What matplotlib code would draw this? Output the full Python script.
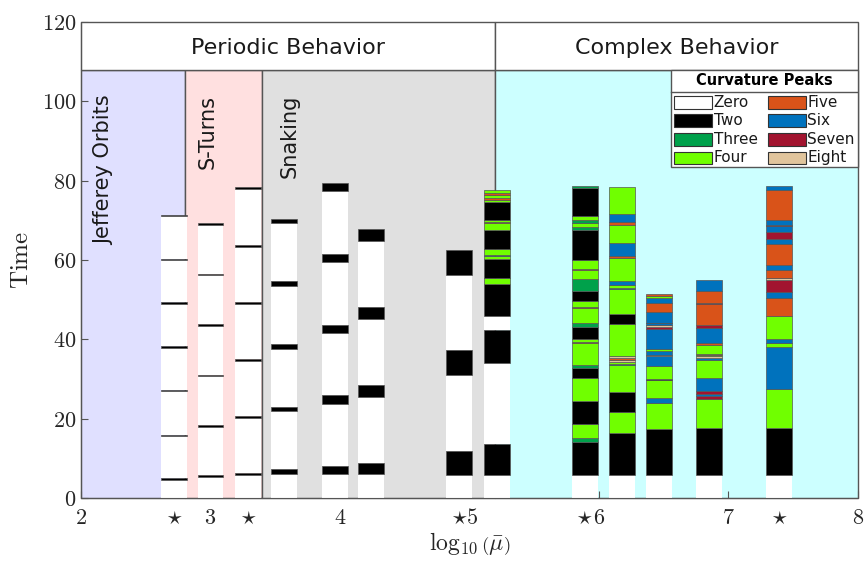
import matplotlib
matplotlib.use('Agg')
import matplotlib.pyplot as plt
from matplotlib.patches import Rectangle
import numpy as np

plt.rcParams['mathtext.fontset'] = 'cm'
plt.rcParams['font.family'] = 'DejaVu Sans'

# ---------------- DATA ----------------
# bar positions (log10 mu) and end times
bar_x = [2.72, 3.00, 3.29, 3.57, 3.96, 4.24, 4.92, 5.21, 5.89, 6.18, 6.46, 6.85, 7.39]
bar_top = [71.4, 69.3, 78.3, 70.4, 79.3, 67.7, 62.5, 77.6, 78.6, 78.4, 51.3, 54.9, 78.6]

# segment start times and number of curvature peaks in each segment
t1 = [0, 4.6, 5.0, 15.6, 16.0, 26.85, 27.1, 37.9, 38.3, 49.0, 49.4, 60.05, 60.3, 71.0]
p1 = [0, 2, 0, 2, 0, 2, 0, 2, 0, 2, 0, 2, 0, 2]
t2 = [0, 5.3, 5.7, 17.9, 18.3, 30.7, 31.1, 43.4, 43.8, 56.1, 56.5, 68.9]
p2 = [0, 2, 0, 2, 0, 2, 0, 2, 0, 2, 0, 2]
t3 = [0, 5.85, 6.35, 20.25, 20.75, 34.55, 35.05, 48.95, 49.45, 63.35, 63.85, 77.8]
p3 = [0, 2, 0, 2, 0, 2, 0, 2, 0, 2, 0, 2]
t4 = [0, 6.0, 7.2, 21.9, 23.0, 37.6, 38.8, 53.4, 54.6, 69.2]
p4 = [0, 2, 0, 2, 0, 2, 0, 2, 0, 2]
t5 = [0, 6.0, 8.0, 23.8, 25.9, 41.6, 43.6, 59.4, 61.6, 77.4]
p5 = [0, 2, 0, 2, 0, 2, 0, 2, 0, 2]
t6 = [0, 6.0, 8.8, 25.4, 28.5, 45.0, 48.1, 64.7]
p6 = [0, 2, 0, 2, 0, 2, 0, 2]
t7 = [0, 5.7, 11.9, 30.9, 37.3, 56.3]
p7 = [0, 2, 0, 2, 0, 2]
t8 = [0, 5.7, 13.7, 34.0, 42.4, 45.9, 53.9, 55.5, 60.2, 61.0, 61.3, 62.7, 67.5, 69.3,
      69.6, 70.2, 74.7, 75.1, 75.7, 76.4, 76.9]
p8 = [0, 2, 0, 2, 0, 2, 4, 2, 4, 6, 4, 2, 4, 5, 4, 2, 4, 5, 4, 5, 4]
t9 = [0, 5.7, 14.2, 15.0, 18.7, 24.5, 30.3, 32.8, 33.6, 39.1, 39.4, 40.0, 43.2, 44.0,
      47.9, 48.2, 49.7, 52.2, 55.3, 57.4, 57.7, 59.9, 67.5, 68.2, 69.4, 70.0, 71.1, 78.1]
p9 = [0, 2, 3, 4, 2, 4, 2, 3, 4, 5, 4, 2, 3, 4, 5, 4, 2, 3, 4, 5, 4, 2, 3, 4, 3, 4, 2, 3]
t10 = [0, 5.7, 16.3, 21.8, 26.6, 33.5, 33.9, 34.4, 34.9, 35.4, 35.8, 43.8, 46.5, 52.6,
       52.9, 53.6, 54.7, 60.6, 61.0, 64.2, 68.7, 69.5, 71.7]
p10 = [0, 2, 4, 2, 4, 6, 4, 8, 5, 8, 4, 2, 4, 6, 4, 6, 4, 5, 6, 4, 5, 6, 4]
t11 = [0, 5.7, 17.5, 23.9, 25.1, 29.7, 30.1, 33.3, 35.7, 36.0, 37.0, 37.6, 42.5, 43.0,
       43.5, 44.0, 44.2, 46.9, 49.1, 50.5, 50.9]
p11 = [0, 2, 4, 6, 4, 2, 4, 6, 8, 6, 4, 6, 7, 8, 6, 4, 6, 5, 6, 4, 5]
t12 = [0, 5.7, 17.7, 25.0, 25.7, 26.3, 27.0, 30.2, 34.7, 35.4, 35.7, 36.0, 36.4, 38.6,
       39.1, 42.8, 43.6, 48.9, 49.2, 52.2]
p12 = [0, 2, 4, 7, 6, 7, 6, 4, 6, 8, 4, 5, 4, 5, 6, 7, 5, 7, 5, 6]
t13 = [0, 5.7, 17.7, 27.6, 38.1, 39.1, 40.2, 45.9, 50.5, 52.0, 54.9, 55.4, 57.4, 58.7,
       64.1, 65.2, 67.1, 68.6, 68.9, 70.0, 77.6]
p13 = [0, 2, 4, 6, 4, 6, 4, 5, 6, 7, 8, 5, 6, 5, 6, 7, 6, 7, 6, 5, 6]

seg_times = [t1, t2, t3, t4, t5, t6, t7, t8, t9, t10, t11, t12, t13]
seg_peaks = [p1, p2, p3, p4, p5, p6, p7, p8, p9, p10, p11, p12, p13]

peak_values = [0, 2, 3, 4, 5, 6, 7, 8]
peak_labels = ['Zero', 'Two', 'Three', 'Four', 'Five', 'Six', 'Seven', 'Eight']
peak_colors = ['#ffffff', '#000000', '#00a14b', '#70ff00',
               '#d95319', '#0072bd', '#a2142f', '#e0c49c']

# behaviour regions
region_edges = [2, 2.8, 3.4, 5.2, 8]
region_colors = ['#e0e0ff', '#ffe0e0', '#e0e0e0', '#ccffff']
region_names = ['Jefferey Orbits', 'S-Turns', 'Snaking']
region_label_x = [2.18, 2.98, 3.61]

behavior_edges = [2, 5.2, 8]
behavior_names = ['Periodic Behavior', 'Complex Behavior']

# x ticks: plain numbers, stars at the marked runs, and one joint "star 5" label
num_ticks = [2, 3, 4, 5, 6, 7, 8]
star_ticks = [2.72, 3.29, 4.92, 5.89, 7.39]
joint_tick = 4.96
joint_label = r'${\star}5$'

# ---------------- PLOT ----------------
edge = '#555555'
color_of = dict(zip(peak_values, peak_colors))

fig = plt.figure(figsize=(8.65, 5.62), dpi=100)
ax = fig.add_axes([0.0936, 0.1139, 0.8983, 0.8470])
ax.set_xlim(2, 8)
ax.set_ylim(0, 120)

# background regions
for i in range(len(region_colors)):
    ax.add_patch(Rectangle((region_edges[i], 0), region_edges[i+1] - region_edges[i], 108,
                           fc=region_colors[i], ec=edge, lw=1, zorder=0, clip_on=False))
for i, name in enumerate(region_names):
    ax.text(region_label_x[i], 101.6, name, rotation=90, ha='center', va='top',
            fontsize=15, color='#1a1a1a', zorder=1)

# header boxes
for i, name in enumerate(behavior_names):
    ax.add_patch(Rectangle((behavior_edges[i], 108), behavior_edges[i+1] - behavior_edges[i], 12,
                           fc='white', ec=edge, lw=1, zorder=3, clip_on=False))
    ax.text((behavior_edges[i] + behavior_edges[i+1]) / 2, 113.5, name,
            ha='center', va='center', fontsize=16, color='#1a1a1a', zorder=4)

# stacked time bars
for i in range(len(bar_x)):
    t = np.array(seg_times[i])
    h = np.diff(np.append(t, bar_top[i]))
    cols = [color_of[p] for p in seg_peaks[i]]
    ecs = ['none' if p == 0 else edge for p in seg_peaks[i]]
    ax.bar(np.full(len(t), bar_x[i]), h, bottom=t, width=0.2, color=cols,
           edgecolor=ecs, linewidth=0.5, zorder=2)

# legend (drawn by hand, title in its own box)
lg_left, lg_top, lg_sep, lg_bot = 0.7593, 0.8992, 0.8536, 0.6954
ax.add_patch(Rectangle((lg_left, lg_bot), 1 - lg_left, lg_top - lg_bot, transform=ax.transAxes,
                       fc='white', ec=edge, lw=1, zorder=5, clip_on=False))
ax.plot([lg_left, 1], [lg_sep, lg_sep], transform=ax.transAxes, color=edge, lw=1, zorder=6)
ax.text((lg_left + 1) / 2, (lg_top + lg_sep) / 2, 'Curvature Peaks', transform=ax.transAxes,
        ha='center', va='center', fontsize=10.5, fontweight='bold', zorder=6)
for k, (lab, col) in enumerate(zip(peak_labels, peak_colors)):
    c, r = divmod(k, 4)
    x0 = 0.7632 + c * 0.1206
    yc = 0.8313 - r * 0.0390
    ax.add_patch(Rectangle((x0, yc - 0.0133), 0.0489, 0.0267, transform=ax.transAxes,
                           fc=col, ec='#333333', lw=0.8, zorder=6))
    ax.text(x0 + 0.051, yc, lab, transform=ax.transAxes, ha='left', va='center',
            fontsize=11, color='#1a1a1a', zorder=6)

# axes styling
for s in ['top', 'right']:
    ax.spines[s].set_visible(False)
for s in ['left', 'bottom']:
    ax.spines[s].set_color(edge)
    ax.spines[s].set_zorder(7)

xt = sorted(num_ticks + star_ticks)
xl = []
for v in xt:
    if v in (4.92, 5):
        xl.append('')
    elif v in star_ticks:
        xl.append(r'$\star$')
    else:
        xl.append(r'$%d$' % v)
ax.set_xticks(xt)
ax.set_xticklabels(xl)
ax.set_xticks([joint_tick], minor=True)
ax.set_xticklabels([joint_label], minor=True)
ax.set_yticks(range(0, 121, 20))
ax.set_yticklabels([r'$%d$' % v for v in range(0, 121, 20)])
ax.tick_params(which='both', direction='in', length=5, width=0.8, color=edge, labelsize=16,
               labelcolor='#262626')
ax.tick_params(axis='x', which='both', pad=7)
ax.tick_params(axis='x', which='minor', length=0)

ax.set_xlabel(r'$\log_{10}\left(\bar{\mu}\right)$', fontsize=17, color='#262626', labelpad=2)
ax.set_ylabel(r'$\mathrm{Time}$', fontsize=18, color='#262626', labelpad=6)

plt.savefig('out.png', dpi=100)
